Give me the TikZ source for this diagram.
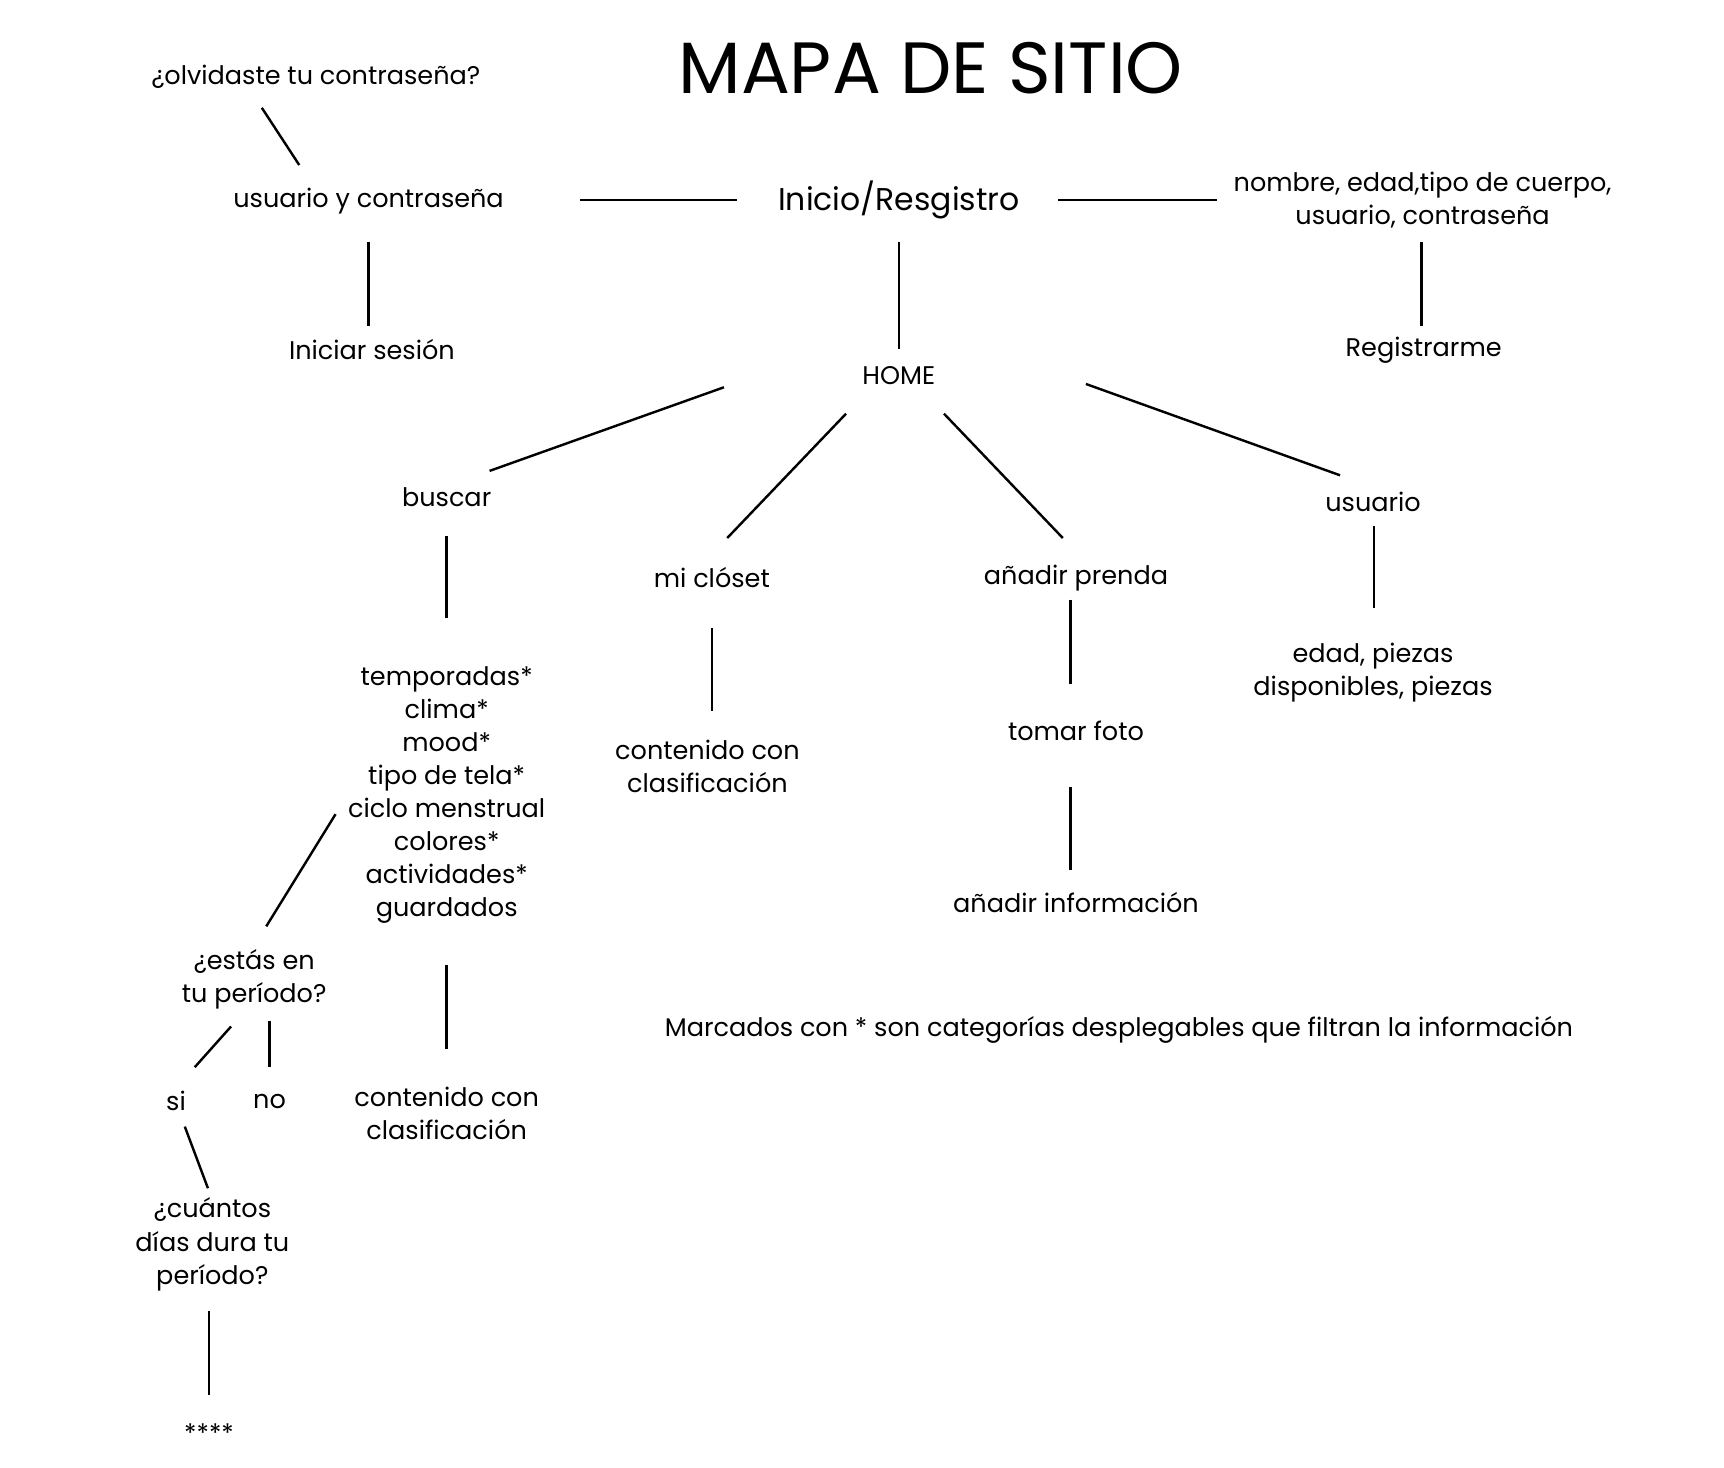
\documentclass[tikz,border=0pt]{standalone}
\usepackage{fontspec}
\setmainfont{Poppins}
\begin{document}
\begin{tikzpicture}[x=0.5pt,y=-0.5pt,
  t/.style={font=\fontsize{11.6}{15}\selectfont,align=center,inner sep=0pt},
  ln/.style={line width=1.1pt}]
\useasboundingbox[fill=white] (0,0) rectangle (1567,1334);
\node[inner sep=0pt,font=\fontsize{33}{38}\selectfont] (title) at (846,62) {MAPA DE SITIO};
\node[t] (olv) at (287,70) {¿olvidaste tu contraseña?};
\node[t] (uyc) at (335,183) {usuario y contraseña};
\node[t,font=\fontsize{14.3}{17}\selectfont] (ini) at (817,182) {Inicio/Resgistro};
\node[t] (nom) at (1293,182) {nombre, edad,tipo de cuerpo,\\usuario, contraseña};
\node[t] (ses) at (338,318) {Iniciar sesión};
\node[t] (home) at (817,341) {HOME};
\node[t] (reg) at (1294,318) {Registrarme};
\node[t] (bus) at (406,452) {buscar};
\node[t] (clo) at (647,525) {mi clóset};
\node[t] (ana) at (978,525) {añadir prenda};
\node[t] (usu) at (1248,456) {usuario};
\node[t] (temp) at (406,723) {temporadas*\\clima*\\mood*\\tipo de tela*\\ciclo menstrual\\colores*\\actividades*\\guardados};
\node[t] (cc1) at (643,697) {contenido con\\clasificación};
\node[t] (foto) at (978,664) {tomar foto};
\node[t] (edad) at (1248,611) {edad, piezas\\disponibles, piezas};
\node[t] (info) at (978,820) {añadir información};
\node[t] (per) at (231,890) {¿estás en\\tu período?};
\node[t] (marc) at (1017,936) {Marcados con * son categorías desplegables que filtran la información};
\node[t] (cc2) at (406,1012) {contenido con\\clasificación};
\node[t] (si) at (160,1001) {si};
\node[t] (no) at (245,1001) {no};
\node[t] (cua) at (193,1131) {¿cuántos\\días dura tu\\período?};
\node[t] (ast) at (190,1303) {****};
\foreach \a/\b/\c/\d in {238/98/272/150, 527/182/670/182, 962/182/1106/182,
 335/220/335/296, 817/220/817/317, 1292/220/1292/296, 658/352/445/428,
 769/376/661/489, 858/376/966/489, 987/349/1218/432, 406/487/406/562,
 647/571/647/646, 973/545/973/622, 1249/478/1249/553, 973/715/973/791,
 305/740/242/842, 406/877/406/953, 210/933/177/970, 245/928/245/970,
 168/1024/189/1080, 190/1192/190/1268}
  \draw[ln] (\a,\b) -- (\c,\d);
\end{tikzpicture}
\end{document}
